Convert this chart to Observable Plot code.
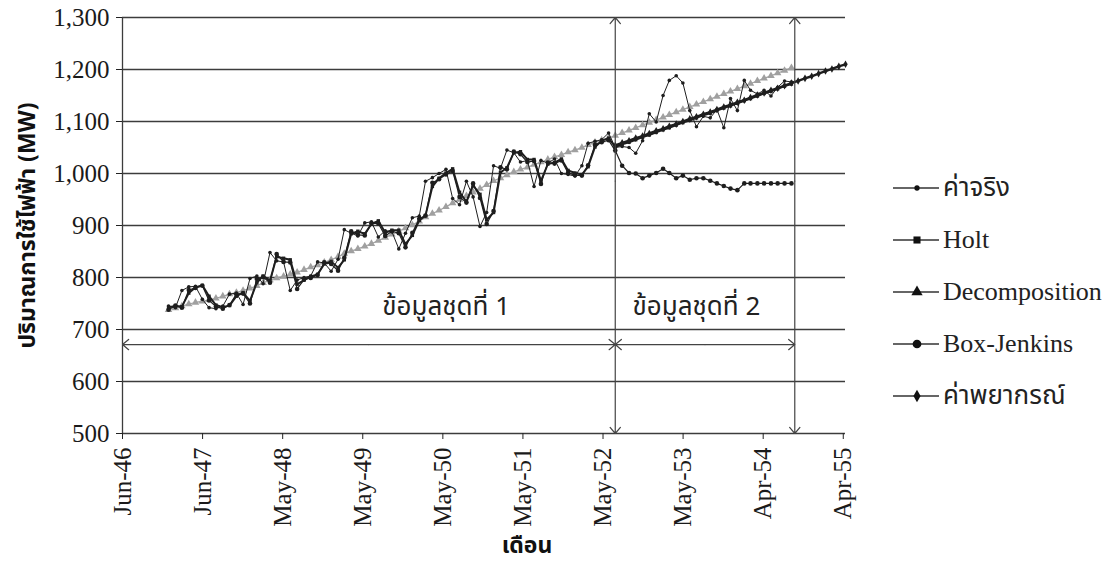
<!DOCTYPE html>
<html>
<head>
<meta charset="utf-8">
<script src="https://cdn.jsdelivr.net/npm/d3@7"></script>
<script src="https://cdn.jsdelivr.net/npm/@observablehq/plot@0.6"></script>
<style>
  body { margin: 0; background: #fff; }
  #wrap { position: relative; width: 1112px; height: 567px; overflow: hidden; }
  #legend { position: absolute; left: 893px; top: 0; }
  .item { position: absolute; left: 0; height: 30px; display: flex; align-items: center; white-space: nowrap; color: #222; }
  .item svg { display: block; margin-right: 4px; }
  .item span { font-size: 26px; line-height: 30px; }
  #chart g[aria-label$="axis tick label"],
  #chart g[aria-label$="axis tick label"] text {
    font-family: "Liberation Serif", "Times New Roman", serif !important;
    font-size: 25px !important;
    stroke: none !important;
    fill: #1a1a1a;
  }
</style>
</head>
<body>
<div id="wrap"><div id="chart"></div><div id="legend"></div></div>
<script>
const THAI = "'Noto Sans Thai', 'Noto Serif Thai', 'Tlwg Typo', Loma, Garuda, Norasi, Kinnari, Waree, Tahoma, sans-serif";
const SERIF = "Liberation Serif, Times New Roman, serif";
const TIMES = "Liberation Serif, Times New Roman, serif";

// Monthly series, first month = Jan 2547 (2004)
const firstMonth = "2004-01-01";

// Observed peak demand (MW), Jan 2547 – Sep 2554
const actual = [
  745, 742, 775, 782, 783, 758, 742, 740, 745, 768, 770, 748,
  798, 803, 788, 848, 832, 830, 775, 795, 800, 803, 830, 828,
  812, 835, 892, 885, 880, 905, 907, 878, 890, 888, 855, 885,
  915, 918, 985, 992, 1000, 1008, 952, 940, 985, 955, 898, 925,
  1015, 1010, 1045, 1040, 1022, 1025, 975, 1025, 1020, 1028, 1000, 998,
  995, 1015, 1058, 1062, 1065, 1078,
  1050, 1052, 1050, 1039, 1063, 1115, 1099, 1150, 1179, 1188, 1174, 1121, 1090,
  1110, 1107, 1123, 1088, 1144, 1121, 1179, 1160, 1153, 1160, 1149, 1166, 1178, 1176
];

// Holt's exponential smoothing: fitted values, then test-period forecast
const holt = [
  743, 745, 744, 770, 781, 785, 764, 747, 743, 746, 764, 771,
  755, 790, 803, 794, 840, 837, 834, 787, 795, 802, 806, 826,
  831, 819, 834, 884, 889, 884, 903, 909, 886, 891, 891, 864,
  881, 910, 919, 975, 991, 1001, 1009, 964, 946, 977, 960, 911,
  925, 1002, 1011, 1040, 1042, 1027, 1027, 986, 1018, 1021, 1028, 1006,
  1001, 998, 1013, 1051, 1063, 1068,
  1051, 1056, 1060, 1065, 1070, 1074, 1079, 1084, 1088, 1093, 1098, 1102, 1107,
  1112, 1116, 1121, 1126, 1130, 1135, 1140, 1144, 1149, 1154, 1158, 1163, 1168, 1172
];

// Classical decomposition (trend x season)
const decomposition = [
  738, 741, 745, 749, 752, 754, 757, 760, 764, 768, 771, 775,
  779, 784, 790, 795, 799, 802, 806, 810, 815, 820, 824, 829,
  834, 840, 846, 851, 855, 860, 865, 871, 877, 883, 889, 895,
  901, 908, 916, 923, 929, 936, 943, 950, 957, 964, 971, 978,
  986, 991, 997, 1003, 1008, 1012, 1017, 1022, 1027, 1032, 1036, 1041,
  1045, 1050, 1055, 1060, 1064, 1068, 1073,
  1078, 1083, 1088, 1093, 1098, 1103, 1108, 1113, 1118, 1123, 1128, 1133, 1138,
  1143, 1148, 1153, 1158, 1163, 1168, 1173, 1178, 1183, 1188, 1193, 1198, 1203
];

// Box-Jenkins (ARIMA)
const boxJenkins = [
  738, 746, 742, 776, 780, 784, 756, 744, 740, 747, 768, 769,
  750, 797, 801, 790, 845, 830, 829, 778, 796, 799, 805, 829,
  826, 813, 838, 889, 882, 881, 904, 904, 880, 889, 885, 858,
  886, 913, 919, 982, 989, 998, 1005, 955, 944, 981, 953, 903,
  928, 1012, 1008, 1042, 1037, 1022, 1024, 980, 1021, 1019, 1025, 1001,
  997, 996, 1016, 1055, 1060, 1064,
  1044, 1015, 1001, 1000, 991, 996, 1001, 1009, 1001, 991, 996, 988, 991,
  991, 986, 981, 976, 971, 968, 981, 981, 981, 981, 981, 981, 981, 981
];

// Final forecast, Jul 2552 – May 2555
const forecastStart = "2009-07-01";
const forecast = [
  1054, 1059, 1063, 1068, 1072, 1077, 1082, 1086, 1091, 1095, 1100, 1105,
  1109, 1114, 1118, 1123, 1128, 1132, 1137, 1141, 1146, 1151, 1155, 1160,
  1164, 1169, 1174, 1178, 1183, 1187, 1192, 1197, 1201, 1206, 1210
];

// Axes
const xStart = "2003-06-08";
const xEnd = "2012-05-01";
const tickDates = ["2003-06-08", "2004-06-02", "2005-05-28", "2006-05-23", "2007-05-18",
                   "2008-05-12", "2009-05-07", "2010-05-02", "2011-04-27", "2012-04-21"];
const tickLabels = ["Jun-46", "Jun-47", "May-48", "May-49", "May-50",
                    "May-51", "May-52", "May-53", "Apr-54", "Apr-55"];
const yTicks = [500, 600, 700, 800, 900, 1000, 1100, 1200, 1300];

// Data-set periods (training / testing)
const periodEdges = ["2003-06-08", "2009-07-01", "2011-09-16"];
const periodLabels = ["ข้อมูลชุดที่ 1", "ข้อมูลชุดที่ 2"];
const periodLabelDates = ["2007-06-02", "2010-07-01"];
const periodLabelLevel = 744;
const periodArrowLevel = 671;

const seriesNames = ["ค่าจริง", "Holt", "Decomposition", "Box-Jenkins", "ค่าพยากรณ์"];

const date = (s) => new Date(s + "T00:00:00Z");
const m0 = date(firstMonth);
const rowsOf = (values, start) => values.map((v, i) => ({date: d3.utcMonth.offset(start, i), value: v}));

const rowsActual = rowsOf(actual, m0);
const rowsHolt = rowsOf(holt, m0);
const rowsDecomp = rowsOf(decomposition, m0);
const rowsBJ = rowsOf(boxJenkins, m0);
const rowsForecast = rowsOf(forecast, date(forecastStart));

const tickDateObjs = tickDates.map(date);
const tickLabelOf = new Map(tickDateObjs.map((d, i) => [+d, tickLabels[i]]));

// double-headed arrows drawn as pairs from a midpoint outwards
const edges = periodEdges.map(date);
const arrows = [];
for (const e of edges.slice(1)) {
  const mid = (periodArrowLevel + 1300) / 2;
  arrows.push({x1: e, y1: mid, x2: e, y2: 1300});
  arrows.push({x1: e, y1: mid, x2: e, y2: 500});
}
for (let i = 0; i < edges.length - 1; i++) {
  const mid = new Date((+edges[i] + +edges[i + 1]) / 2);
  arrows.push({x1: mid, y1: periodArrowLevel, x2: edges[i], y2: periodArrowLevel});
  arrows.push({x1: mid, y1: periodArrowLevel, x2: edges[i + 1], y2: periodArrowLevel});
}
const labelRows = periodLabels.map((t, i) => ({date: date(periodLabelDates[i]), value: periodLabelLevel, text: t}));

const INK = "#1e1e1e";
const GRID = "#3c3c3c";
const GREY = "#a0a0a0";

const chart = Plot.plot({
  width: 1112,
  height: 567,
  marginLeft: 122,
  marginRight: 267,
  marginTop: 17,
  marginBottom: 134,
  x: {type: "utc", domain: [date(xStart), date(xEnd)], label: null},
  y: {domain: [500, 1300], label: null},
  style: {background: "#fff", color: "#222", overflow: "visible", fontFamily: SERIF, fontSize: "25px"},
  marks: [
    Plot.gridY(yTicks, {stroke: GRID, strokeOpacity: 1, strokeWidth: 1.3}),
    Plot.ruleX([date(xStart)], {y1: 500, y2: 1300, stroke: GRID, strokeWidth: 1.3}),
    Plot.axisY(yTicks, {tickSize: 6, tickPadding: 7, tickFormat: d3.format(","), fontSize: 25, fontFamily: SERIF, label: null}),
    Plot.axisX(tickDateObjs, {tickFormat: (d) => tickLabelOf.get(+d), tickRotate: -90, tickSize: 6, tickPadding: 8, fontSize: 25, fontFamily: SERIF, label: null}),

    // Decomposition (grey, dense triangles)
    Plot.line(rowsDecomp, {x: "date", y: "value", stroke: GREY, strokeWidth: 1.2}),
    Plot.dot(rowsDecomp, {x: "date", y: "value", symbol: "triangle", r: 2.8, fill: GREY}),

    // Box-Jenkins
    Plot.line(rowsBJ, {x: "date", y: "value", stroke: INK, strokeWidth: 1.2}),
    Plot.dot(rowsBJ, {x: "date", y: "value", symbol: "circle", r: 2.3, fill: INK}),

    // Holt
    Plot.line(rowsHolt, {x: "date", y: "value", stroke: INK, strokeWidth: 2}),
    Plot.dot(rowsHolt, {x: "date", y: "value", symbol: "square", r: 1.9, fill: INK}),

    // Observed
    Plot.line(rowsActual, {x: "date", y: "value", stroke: INK, strokeWidth: 1}),
    Plot.dot(rowsActual, {x: "date", y: "value", symbol: "circle", r: 1.8, fill: INK}),

    // Forecast
    Plot.line(rowsForecast, {x: "date", y: "value", stroke: INK, strokeWidth: 2.4}),
    Plot.dot(rowsForecast, {x: "date", y: "value", symbol: "diamond", r: 2.3, fill: INK}),

    // Period markers
    Plot.arrow(arrows, {x1: "x1", y1: "y1", x2: "x2", y2: "y2", stroke: "#444", strokeWidth: 1.2, headLength: 10, headAngle: 80}),
    Plot.text(labelRows, {x: "date", y: "value", text: "text", fontSize: 26, fontFamily: THAI, fill: "#222"}),

    // Axis titles
    Plot.text(["ปริมาณการใช้ไฟฟ้า (MW)"], {frameAnchor: "left", textAnchor: "middle", dx: -95, rotate: -90, fontSize: 23, fontWeight: "bold", fontFamily: THAI, fill: "#111"}),
    Plot.text(["เดือน"], {frameAnchor: "bottom", dx: 43, dy: 119, fontSize: 23, fontWeight: "bold", fontFamily: THAI, fill: "#111"})
  ]
});
document.getElementById("chart").appendChild(chart);

// Legend
const legendSymbols = [d3.symbolCircle, d3.symbolSquare, d3.symbolTriangle, d3.symbolCircle, d3.symbolDiamond];
const legendSymbolSizes = [22, 50, 55, 60, 45];
const legend = d3.select("#legend");
seriesNames.forEach((name, i) => {
  const item = legend.append("div").attr("class", "item").style("top", (173 + i * 52) + "px");
  const svg = item.append("svg").attr("width", 46).attr("height", 30);
  svg.append("line").attr("x1", 0).attr("x2", 46).attr("y1", 15).attr("y2", 15)
    .attr("stroke", "#333").attr("stroke-width", 1.5);
  svg.append("path").attr("transform", "translate(24,15)")
    .attr("d", d3.symbol(legendSymbols[i], legendSymbolSizes[i])()).attr("fill", "#111");
  const thai = /[\u0E00-\u0E7F]/.test(name);
  item.append("span").text(name).style("font-family", thai ? THAI : TIMES);
});
</script>
</body>
</html>
